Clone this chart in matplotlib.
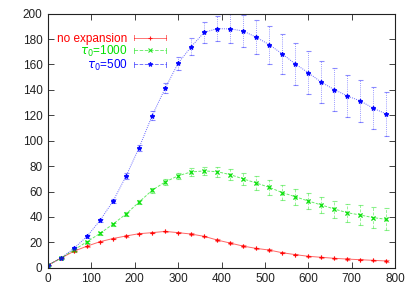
import matplotlib
matplotlib.use("Agg")
import matplotlib.pyplot as plt
from matplotlib.lines import Line2D
from matplotlib.legend_handler import HandlerBase

plt.rcParams["font.family"] = ["Liberation Sans", "DejaVu Sans"]
plt.rcParams["mathtext.fontset"] = "dejavusans"

x = list(range(0, 781, 30))

no_exp = [2, 7.6, 13, 17, 20.5, 23, 25, 26.8, 27.6, 28.6, 27.6, 26.5, 24.7, 21.8,
          19.4, 17, 15.2, 13.9, 11.8, 10.3, 9, 8.2, 7.4, 6.8, 6.3, 5.8, 5.3]
no_exp_err = [0.2, 0.3, 0.3, 0.4, 0.4, 0.4, 0.5, 0.5, 0.5, 0.5, 0.5, 0.5, 0.5, 0.5,
              0.5, 0.5, 0.5, 0.5, 0.5, 0.5, 0.5, 0.5, 0.5, 0.5, 0.5, 0.5, 0.5]

tau1000 = [2, 7.6, 14, 20.5, 27, 34.4, 42.3, 51.7, 61, 67.5, 72.4, 75.4, 76.2, 75.6,
           73.3, 69.9, 66.7, 63.3, 59.1, 55.9, 52.5, 49.4, 46.2, 43.3, 41.5, 39.4, 38.1]
tau1000_err = [0.3, 0.4, 0.6, 0.8, 1.0, 1.2, 1.4, 1.6, 1.8, 2.0, 2.4, 3.0, 3.4, 4.0,
               4.5, 5.0, 5.6, 5.8, 6.0, 6.2, 6.4, 6.5, 6.7, 7.0, 7.7, 8.5, 8.7]

tau500 = [2, 7.6, 15.3, 24.7, 37.3, 52.5, 72.2, 94.5, 119.7, 141.3, 161, 174, 185.3,
          188.2, 188, 186.4, 181.4, 175.6, 168.3, 160.4, 153.5, 146, 140.2, 135.2,
          131.3, 125.5, 121]
tau500_err = [0.3, 0.5, 0.8, 1.0, 1.3, 1.6, 2.0, 2.4, 3.3, 4.0, 5.2, 6.6, 8.3, 10.0,
              11.4, 12.6, 13.4, 15.0, 16.0, 16.3, 17.0, 16.7, 16.7, 16.8, 16.8, 16.5, 17.0]

labels = ["no expansion", r"$\tau_0$=1000", r"$\tau_0$=500"]
colors = ["#ff0000", "#00e000", "#0000ff"]
markers = ["+", "x", "*"]
styles = ["-", (0, (3, 1.5)), (0, (1, 1.2))]


class HandlerBar(HandlerBase):
    # gnuplot style key sample: horizontal line with caps and a point in the middle
    def create_artists(self, legend, orig_handle, xdescent, ydescent, width, height,
                       fontsize, trans):
        c = orig_handle.get_color()
        ls = orig_handle.get_linestyle()
        y = height / 2 - ydescent
        h = height * 0.3
        line = Line2D([-xdescent, width - xdescent], [y, y], color=c, lw=0.7, ls=ls,
                      alpha=0.55)
        cap1 = Line2D([-xdescent, -xdescent], [y - h, y + h], color=c, lw=0.7, alpha=0.55)
        cap2 = Line2D([width - xdescent] * 2, [y - h, y + h], color=c, lw=0.7, alpha=0.55)
        pt = Line2D([(width - xdescent) / 2], [y], color=c, marker=orig_handle.get_marker(),
                    ms=3.2, mew=0.8, ls="none", alpha=0.85)
        arts = [line, cap1, cap2, pt]
        for a in arts:
            a.set_transform(trans)
        return arts


fig = plt.figure(figsize=(4.15, 2.91), dpi=100)
ax = fig.add_axes([0.1157, 0.080, 0.8363, 0.873])

handles = []
for y, e, c, m, ls in zip([no_exp, tau1000, tau500], [no_exp_err, tau1000_err, tau500_err],
                          colors, markers, styles):
    eb = ax.errorbar(x, y, yerr=e, color=c, lw=0.7, ls=ls, marker=m, ms=3.2, mew=0.8,
                     capsize=1.8, elinewidth=0.7, capthick=0.7)
    eb[0].set_alpha(0.6)
    eb[2][0].set_linestyle(ls)
    eb[2][0].set_alpha(0.4)
    for cap in eb[1]:
        cap.set_alpha(0.45)
    # markers drawn again on top, more opaque than the thin lines
    ax.plot(x, y, ls="none", marker=m, color=c, ms=3.2, mew=0.8, alpha=0.85)
    handles.append(Line2D([], [], color=c, marker=m, ls=ls))

ax.set_xlim(0, 800)
ax.set_ylim(0, 200)
ax.set_xticks(range(0, 801, 100))
ax.set_yticks(range(0, 201, 20))
ax.tick_params(direction="in", top=True, right=True, length=4, width=0.6, labelsize=8.5,
               colors="#222222", pad=4)
for s in ax.spines.values():
    s.set_linewidth(0.8)
    s.set_color("#222222")

leg = ax.legend(handles, labels, handler_map={Line2D: HandlerBar()}, loc="upper right",
                bbox_to_anchor=(0.34, 0.925), frameon=False, markerfirst=False,
                fontsize=8.5, handlelength=2.7, handletextpad=0.55, labelspacing=-0.1,
                borderpad=0, borderaxespad=0)
for t, c in zip(leg.get_texts(), colors):
    t.set_color(c)
for col in leg._legend_handle_box.get_children():
    col.align = "right"

fig.savefig("out.png", dpi=100)
